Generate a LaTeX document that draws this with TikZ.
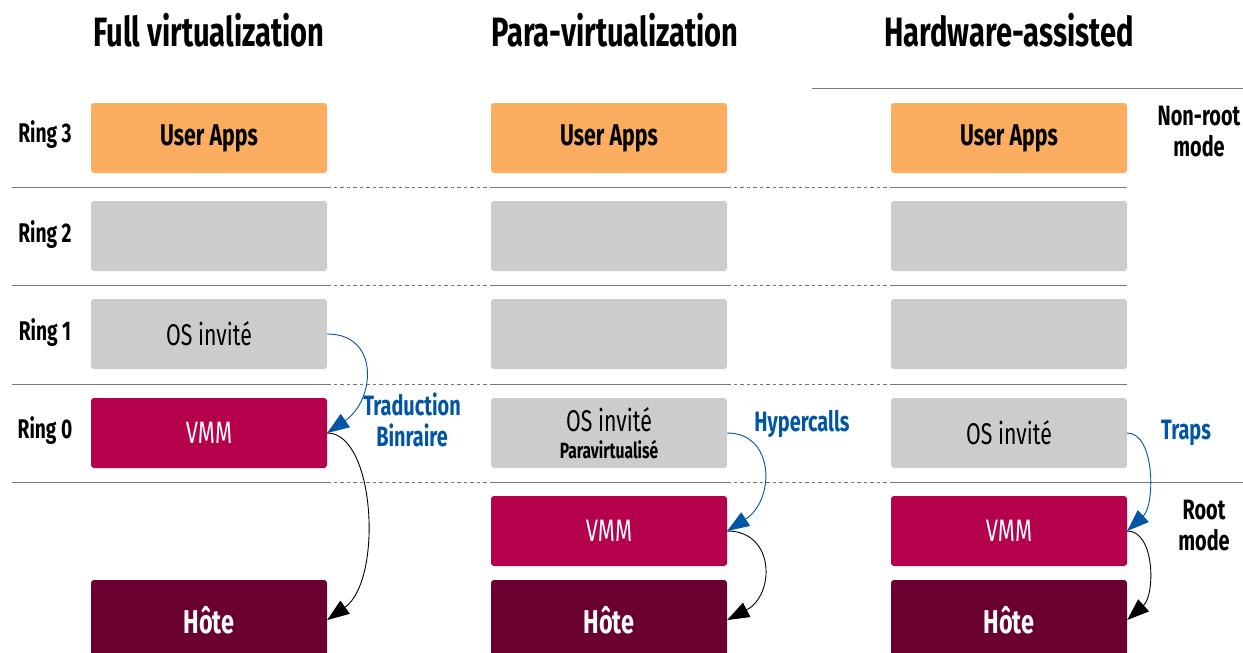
\documentclass[tikz,border=0pt]{standalone}
\usepackage{fontspec}
\setmainfont[FakeStretch=0.71]{Fira Sans}
\usetikzlibrary{arrows.meta}
\definecolor{orangeA}{HTML}{FBAD60}
\definecolor{grayA}{HTML}{CCCCCC}
\definecolor{vmmC}{HTML}{B5004B}
\definecolor{hostC}{HTML}{6B0030}
\definecolor{blueA}{HTML}{0055A5}
\definecolor{lineC}{HTML}{777777}
\tikzset{
  box/.style={rounded corners=3pt, minimum width=236pt, minimum height=70pt, inner sep=0pt, align=center},
  apps/.style={box, fill=orangeA, font=\fontsize{30}{32}\selectfont\bfseries},
  empty/.style={box, fill=grayA},
  os/.style={box, fill=grayA, font=\fontsize{30}{32}\selectfont},
  vmm/.style={box, fill=vmmC, text=white, font=\fontsize{31}{32}\selectfont},
  host/.style={box, minimum height=80pt, fill=hostC, text=white, font=\fontsize{33}{34}\selectfont\bfseries},
  title/.style={font=\fontsize{41}{44}\selectfont\bfseries},
  ring/.style={font=\fontsize{27}{30}\selectfont\bfseries},
  side/.style={font=\fontsize{28}{31}\selectfont\bfseries, align=center},
  bluelbl/.style={font=\fontsize{28}{31}\selectfont\bfseries, text=blueA, align=center},
  sep/.style={draw=lineC, line width=1pt},
  sepd/.style={draw=lineC, line width=1pt, dash pattern=on 3.5pt off 3pt},
  call/.style={draw=blueA, line width=0.9pt, -{Triangle[length=22pt,width=16pt]}},
  flow/.style={draw=black, line width=0.9pt, -{Triangle[length=22pt,width=16pt]}}
}
\begin{document}
\begin{tikzpicture}[x=1pt,y=-1pt]
\useasboundingbox (0,0) rectangle (1243,653);
\clip (0,0) rectangle (1243,653);
% separator lines
\foreach \yy in {187,285,384,482}{
  \draw[sep] (12,\yy) -- (327,\yy);
  \draw[sepd] (327,\yy) -- (491,\yy);
  \draw[sep] (491,\yy) -- (727,\yy);
  \draw[sepd] (727,\yy) -- (891,\yy);
  \draw[sep] (891,\yy) -- (1127,\yy);
}
\draw[sep] (1127,482) -- (1243,482);
\draw[sep] (812,88) -- (1243,88);
% titles
\node[title] (t1) at (209,30) {Full virtualization};
\node[title] (t2) at (615,30) {Para-virtualization};
\node[title] (t3) at (1009,30) {Hardware-assisted};
% ring labels
\node[ring] (r3) at (45,135) {Ring 3};
\node[ring] (r2) at (45,235) {Ring 2};
\node[ring] (r1) at (45,333) {Ring 1};
\node[ring] (r0) at (45,431) {Ring 0};
% column 1
\node[apps] (apps1) at (209,138) {User Apps};
\node[empty] (g1) at (209,236) {};
\node[os] (os1) at (209,334) {OS invité};
\node[vmm] (vmm1) at (209,433) {VMM};
\node[host] (host1) at (209,620) {Hôte};
% column 2
\node[apps] (apps2) at (609,138) {User Apps};
\node[empty] (g2a) at (609,236) {};
\node[empty] (g2b) at (609,334) {};
\node[os] (os2) at (609,433) {OS invité\\[-5pt]{\fontsize{22}{23}\selectfont\bfseries Paravirtualisé}};
\node[vmm] (vmm2) at (609,531) {VMM};
\node[host] (host2) at (609,620) {Hôte};
% column 3
\node[apps] (apps3) at (1009,138) {User Apps};
\node[empty] (g3a) at (1009,236) {};
\node[empty] (g3b) at (1009,334) {};
\node[os] (os3) at (1009,433) {OS invité};
\node[vmm] (vmm3) at (1009,531) {VMM};
\node[host] (host3) at (1009,620) {Hôte};
% side labels
\node[side] (nonroot) at (1199,132) {Non-root\\mode};
\node[side] (root) at (1204,526) {Root\\mode};
\node[bluelbl] (trad) at (412,420) {Traduction\\Binraire};
\node[bluelbl] (hyper) at (802,424) {Hypercalls};
\node[bluelbl] (traps) at (1186,433) {Traps};
% connectors
\draw[call] (os1.east) .. controls +(53,0) and +(48,-33) .. (vmm1.east);
\draw[flow] (vmm1.east) .. controls +(48,0) and +(56,-40) .. (host1.east);
\draw[call] (os2.east) .. controls +(48,0) and +(48,-31) .. (vmm2.east);
\draw[flow] (vmm2.east) .. controls +(48,0) and +(48,-25) .. (host2.east);
\draw[call] (os3.east) .. controls +(28,0) and +(28,-26) .. (vmm3.east);
\draw[flow] (vmm3.east) .. controls +(28,0) and +(28,-25) .. (host3.east);
\end{tikzpicture}
\end{document}
